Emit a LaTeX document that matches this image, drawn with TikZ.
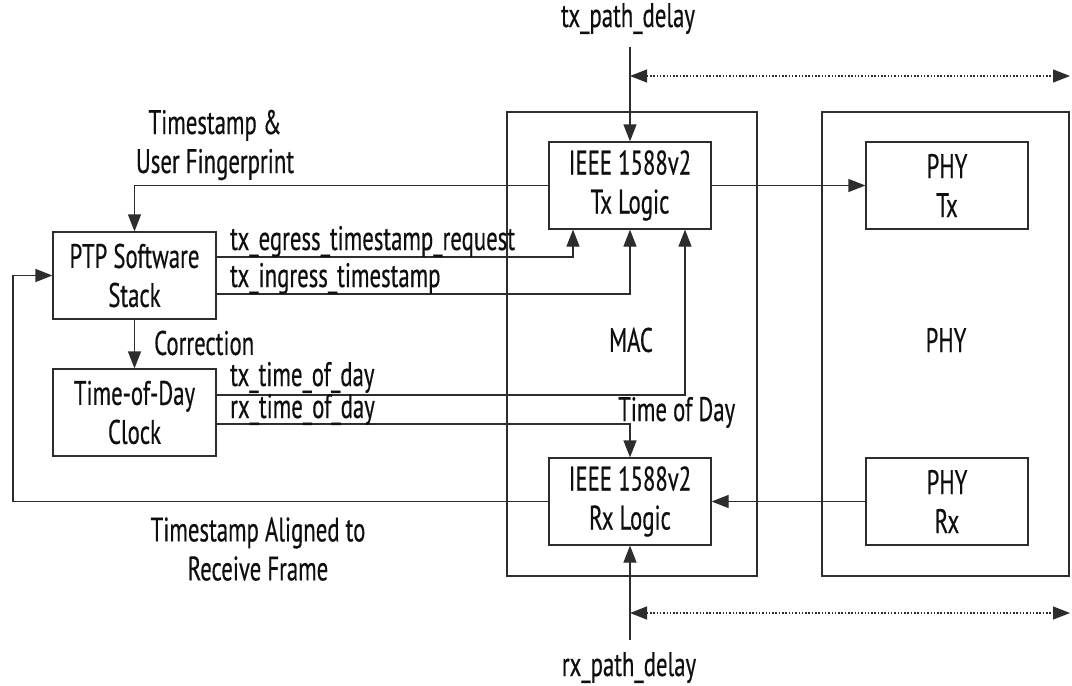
\documentclass[tikz,border=0pt]{standalone}
\usepackage{fontspec}
\setmainfont{PT Sans}[FakeStretch=0.67,FakeBold=0.4]
\usetikzlibrary{arrows.meta}
\definecolor{linec}{RGB}{45,45,45}
\definecolor{txtc}{RGB}{15,15,15}
\newcommand\lbl{\fontsize{34}{39}\selectfont}
\begin{document}
\begin{tikzpicture}[x=1pt,y=-1pt,
  blk/.style={draw=linec, line width=1.2pt, minimum width=163pt, minimum height=87pt, inner sep=0pt, align=center, font=\lbl, text=txtc},
  outer/.style={draw=linec, line width=1.2pt, inner sep=0pt},
  arr/.style={draw=linec, line width=1.2pt, -{Triangle[length=17pt,width=13pt]}},
  darr/.style={draw=linec, line width=1.2pt, dash pattern=on 1.5pt off 1.8pt, {Triangle[length=17pt,width=13pt]}-{Triangle[length=17pt,width=13pt]}},
  txt/.style={font=\lbl, text=txtc, inner sep=0pt, align=center}]
\useasboundingbox (0,0) rectangle (1072,686);
\fill[white] (0,0) rectangle (1072,686);
% outer boxes
\node[outer, minimum width=250pt, minimum height=464pt] (mac) at (632,344) {};
\node[outer, minimum width=247pt, minimum height=464pt] (phy) at (945.5,344) {};
\node[txt] (maclbl) at (631,340) {MAC};
\node[txt] (phylbl) at (946,340) {PHY};
% blocks
\node[blk] (ptp) at (134.5,275.5) {PTP Software\\Stack};
\node[blk] (tod) at (134.5,412.5) {Time-of-Day\\Clock};
\node[blk, minimum width=162pt] (tx) at (630,185.5) {IEEE 1588v2\\Tx Logic};
\node[blk, minimum width=162pt] (rx) at (630,501.5) {IEEE 1588v2\\Rx Logic};
\node[blk, minimum width=162pt] (phytx) at (947,185.5) {PHY\\Tx};
\node[blk, minimum width=162pt] (phyrx) at (947,501.5) {PHY\\Rx};
% coordinates
\coordinate (txd) at (630,47);
\coordinate (rxd) at (630,640);
\coordinate (fb) at (13,275.5);
\coordinate (d1a) at (630,76);
\coordinate (d1b) at (1070,76);
\coordinate (d2a) at (630,613);
\coordinate (d2b) at (1070,613);
% connectors
\draw[arr] (tx.west) -| (ptp.north);
\draw[arr] (ptp.east |- 0,257) -| (tx.south -| 573,0);
\draw[arr] (ptp.east |- 0,294) -| (tx.south);
\draw[arr] (ptp.south) -- (tod.north);
\draw[arr] (tod.east |- 0,395) -| (tx.south -| 685,0);
\draw[arr] (tod.east |- 0,424) -| (rx.north);
\draw[arr] (rx.west) -| (fb) -- (ptp.west);
\draw[arr] (tx.east) -- (phytx.west);
\draw[arr] (phyrx.west) -- (rx.east);
\draw[arr] (txd) -- (tx.north);
\draw[arr] (rxd) -- (rx.south);
\draw[darr] (d1a) -- (d1b);
\draw[darr] (d2a) -- (d2b);
% labels
\node[txt, anchor=base] (ltxpd) at (628,27) {tx\_path\_delay};
\node[txt, anchor=base] (lrxpd) at (629,676) {rx\_path\_delay};
\node[txt] (lts) at (215,145) {Timestamp \&\\User Fingerprint};
\node[txt, anchor=base west] (legr) at (230,250) {tx\_egress\_timestamp\_request};
\node[txt, anchor=base west] (ling) at (230,287) {tx\_ingress\_timestamp};
\node[txt, anchor=west] (lcor) at (154,343) {Correction};
\node[txt, anchor=base west] (ltxt) at (230,386) {tx\_time\_of\_day};
\node[txt, anchor=base west] (lrxt) at (230,418) {rx\_time\_of\_day};
\node[txt, anchor=base west] (ltod) at (618,421) {Time of Day};
\node[txt] (lalign) at (258,549) {Timestamp Aligned to\\Receive Frame};
\end{tikzpicture}
\end{document}
